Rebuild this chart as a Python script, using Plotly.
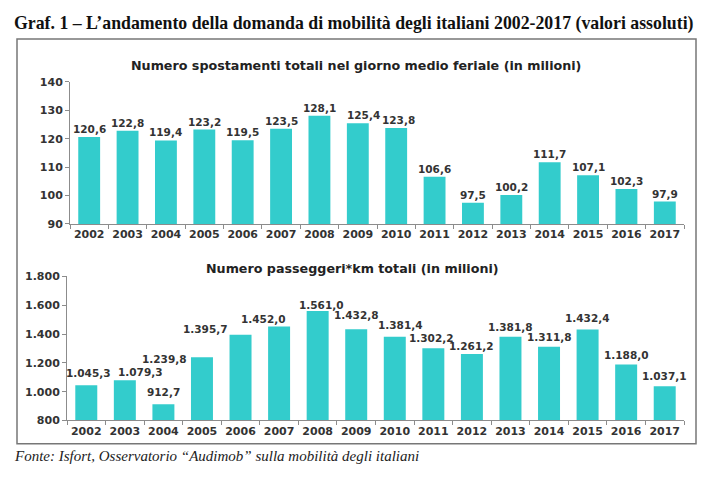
import plotly.graph_objects as go

W, H = 716, 481

years = [str(y) for y in range(2002, 2018)]
spostamenti = [120.6, 122.8, 119.4, 123.2, 119.5, 123.5, 128.1, 125.4, 123.8,
               106.6, 97.5, 100.2, 111.7, 107.1, 102.3, 97.9]
passeggeri_km = [1045.3, 1079.3, 912.7, 1239.8, 1395.7, 1452.0, 1561.0, 1432.8,
                 1381.4, 1302.2, 1261.2, 1381.8, 1311.8, 1432.4, 1188.0, 1037.1]

top_ticks = [90, 100, 110, 120, 130, 140]
bottom_ticks = [800, 1000, 1200, 1400, 1600, 1800]

title_text = "Graf. 1 – L’andamento della domanda di mobilità degli italiani 2002-2017 (valori assoluti)"
sub_top = "Numero spostamenti totali nel giorno medio feriale (in milioni)"
sub_bottom = "Numero passeggeri*km totali (in milioni)"
source_text = "Fonte: Isfort, Osservatorio “Audimob” sulla mobilità degli italiani"

# label placement nudges (pixels), mimicking the original chart
top_dx = [0, 0, 0, 0, 0, 0, 0, 6, 2, 0, 0, 0, 0, 0, 0, 0]
bot_dx = [2, 16, 0, -37, -35, -16, 4, 0, 6, -2, 0, 0, 0, 0, 0, 0]
bot_dy = [2, -2, 2, -12, -4, -2, -4, 4, 2, 0, -2, 0, 0, 1, 0, 0]

BAR = "#33CCCC"
TXT = "#333333"
AX = "#8c8c8c"
SANS = "DejaVu Sans"


def px_x(p):
    return p / W


def px_y(p):
    return 1 - p / H


def it_num(v):
    return f"{v:,.1f}".replace(",", "X").replace(".", ",").replace("X", ".")


fig = go.Figure()

fig.add_trace(go.Bar(x=years, y=spostamenti, marker_color=BAR, marker_line_width=0,
                     xaxis="x", yaxis="y", hoverinfo="skip"))
fig.add_trace(go.Bar(x=years, y=passeggeri_km, marker_color=BAR, marker_line_width=0,
                     xaxis="x2", yaxis="y2", hoverinfo="skip"))

lab_font = dict(family=SANS, size=10.5, color=TXT, weight="bold")
for i, v in enumerate(spostamenti):
    fig.add_annotation(x=i, y=v, xref="x", yref="y", text=it_num(v), showarrow=False,
                       xanchor="center", yanchor="bottom", xshift=top_dx[i], yshift=0,
                       font=lab_font)
for i, v in enumerate(passeggeri_km):
    fig.add_annotation(x=i, y=v, xref="x2", yref="y2", text=it_num(v), showarrow=False,
                       xanchor="center", yanchor="bottom",
                       xshift=bot_dx[i], yshift=2 + bot_dy[i], font=lab_font)

axis_common = dict(showgrid=False, zeroline=False, showline=True, linecolor=AX, linewidth=1,
                   ticks="outside", tickcolor=AX, ticklen=4, tickangle=0,
                   tickfont=dict(family=SANS, size=11, color=TXT, weight="bold"))

n = len(years)
fig.update_layout(
    width=W, height=H, margin=dict(l=0, r=0, t=0, b=0),
    paper_bgcolor="white", plot_bgcolor="white",
    showlegend=False, bargap=0.43, separators=",.",
    xaxis=dict(axis_common, domain=[px_x(70), px_x(684)], anchor="y", type="category",
               tickson="boundaries", range=[-0.5, n - 0.5]),
    yaxis=dict(axis_common, domain=[px_y(224), px_y(78)], anchor="x", range=[90, 140],
               tickvals=top_ticks),
    xaxis2=dict(axis_common, domain=[px_x(67), px_x(684)], anchor="y2", type="category",
                tickson="boundaries", range=[-0.5, n - 0.5]),
    yaxis2=dict(axis_common, domain=[px_y(426), px_y(278)], anchor="x2", range=[800, 1800],
                tickvals=bottom_ticks, tickformat=",.0f"),
)

fig.add_shape(type="rect", xref="paper", yref="paper",
              x0=px_x(17), x1=px_x(696), y0=px_y(450), y1=px_y(34),
              line=dict(color="#777777", width=1.5))

fig.add_annotation(text=title_text, xref="paper", yref="paper", x=px_x(12), y=px_y(18),
                   xanchor="left", yanchor="middle", showarrow=False,
                   font=dict(family="Liberation Serif", size=17.8, color="#111111", weight="bold"))
fig.add_annotation(text=sub_top, xref="paper", yref="paper", x=px_x(356), y=px_y(61),
                   xanchor="center", yanchor="middle", showarrow=False,
                   font=dict(family=SANS, size=12.7, color="#222222", weight="bold"))
fig.add_annotation(text=sub_bottom, xref="paper", yref="paper", x=px_x(352), y=px_y(270),
                   xanchor="center", yanchor="middle", showarrow=False,
                   font=dict(family=SANS, size=12.7, color="#222222", weight="bold"))
fig.add_annotation(text=source_text, xref="paper", yref="paper", x=px_x(12), y=px_y(463),
                   xanchor="left", yanchor="middle", showarrow=False,
                   font=dict(family="Liberation Serif", size=15, color="#222222", style="italic"))

fig.write_html("out.html", config={"displayModeBar": False},
               post_script="document.body.style.margin='0';document.body.style.overflow='hidden';")
